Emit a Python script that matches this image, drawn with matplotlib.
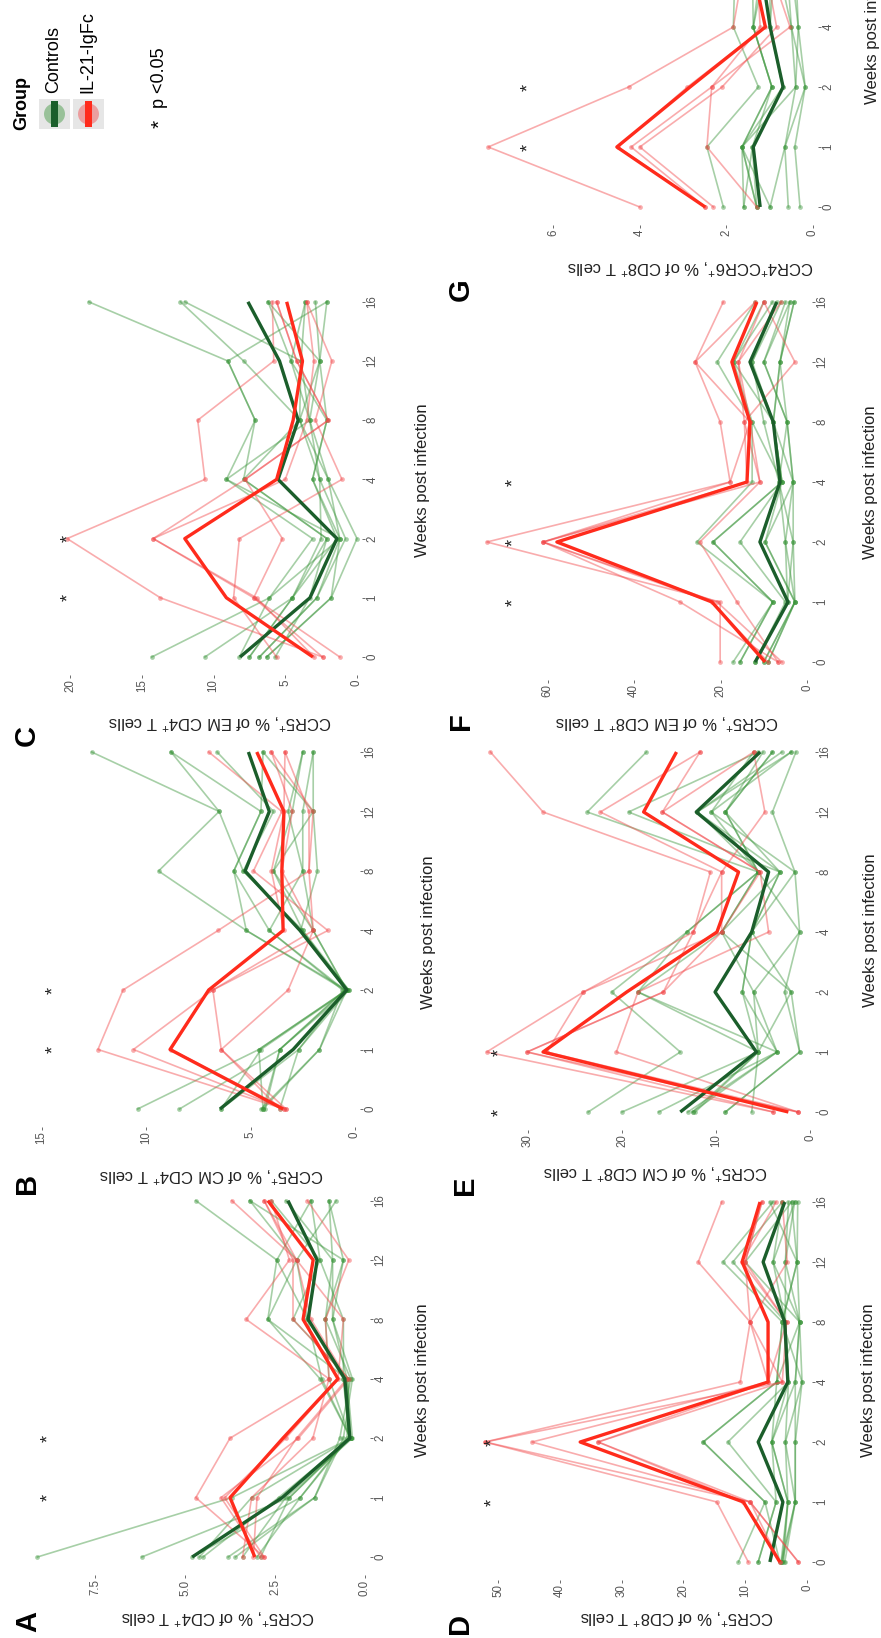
import matplotlib.pyplot as plt
import numpy as np
from matplotlib.patches import Rectangle, Ellipse

plt.rcParams['font.family'] = ['Liberation Sans', 'DejaVu Sans']
plt.rcParams['mathtext.fontset'] = 'custom'
plt.rcParams['mathtext.rm'] = 'Liberation Sans'
plt.rcParams['mathtext.it'] = 'Liberation Sans:italic'

W, H = 881, 1638

# shared categories
weeks = ["0", "1", "2", "4", "8", "12", "16"]
groups = ["Controls", "IL-21-IgFc"]

# ---- panel A: CCR5+ % of CD4+ T cells
a_ctrl = [
    [9.1, 3.7, 0.4, 1.25, 2.7, 2.45, 4.7],
    [6.2, 2.1, 0.4, 0.6, 1.6, 1.9, 3.2],
    [4.8, 1.8, 0.5, 0.45, 2.0, 1.25, 1.5],
    [4.6, 3.15, 0.4, 1.0, 1.1, 0.9, 2.2],
    [3.8, 1.4, 0.6, 0.35, 0.9, 0.6, 1.0],
    [3.4, 2.2, 0.35, 0.5, 2.7, 1.9, 0.8],
    [3.0, 1.8, 0.45, 0.6, 0.6, 1.25, 2.6],
    [4.5, 2.4, 0.4, 1.2, 1.6, 2.45, 1.5],
    [3.6, 1.4, 0.7, 0.4, 1.1, 0.6, 3.2],
    [2.9, 2.1, 0.4, 0.5, 0.9, 0.9, 1.0],
]
a_il21 = [
    [2.8, 4.7, 3.75, 1.0, 3.3, 2.1, 2.6],
    [2.9, 4.0, 1.85, 0.45, 2.0, 2.0, 2.8],
    [3.4, 3.15, 1.45, 1.0, 1.1, 0.45, 1.6],
    [2.8, 3.9, 2.2, 0.75, 0.6, 1.9, 3.7],
    [3.1, 3.0, 1.9, 0.5, 1.5, 1.9, 2.8],
]
a_ctrl_mean = [4.8, 2.3, 0.42, 0.56, 1.58, 1.33, 2.14]
a_il21_mean = [3.06, 3.75, 2.28, 0.75, 1.72, 1.44, 2.7]

# ---- panel B: CCR5+ % of CM CD4+ T cells
b_ctrl = [
    [10.4, 4.6, 0.4, 5.2, 9.4, 6.5, 12.6],
    [8.4, 3.6, 0.5, 4.1, 5.8, 4.5, 8.8],
    [6.4, 2.7, 0.3, 2.5, 5.35, 3.9, 6.6],
    [4.4, 4.6, 0.4, 2.0, 3.9, 2.0, 4.4],
    [4.5, 1.7, 0.6, 4.1, 2.5, 3.2, 2.5],
    [4.3, 3.6, 0.3, 2.6, 1.8, 2.0, 2.0],
    [3.6, 2.7, 0.5, 5.2, 5.8, 4.5, 4.4],
    [4.4, 1.7, 0.4, 2.0, 2.5, 2.5, 2.0],
    [6.4, 4.5, 0.35, 2.6, 5.35, 6.5, 8.8],
    [4.4, 3.6, 0.45, 2.5, 3.9, 3.0, 2.5],
]
b_il21 = [
    [3.4, 12.3, 11.1, 6.55, 2.2, 2.2, 3.35],
    [3.3, 6.4, 6.8, 1.3, 4.86, 3.5, 7.0],
    [3.6, 6.4, 3.2, 2.0, 2.2, 2.0, 4.0],
    [3.4, 10.6, 6.8, 2.0, 3.5, 3.0, 4.0],
    [3.3, 8.8, 7.0, 3.4, 4.0, 3.4, 3.35],
]
b_ctrl_mean = [6.46, 2.96, 0.39, 2.63, 5.26, 4.1, 5.1]
b_il21_mean = [3.44, 8.85, 7.0, 3.44, 3.5, 3.4, 4.7]

# ---- panel C: CCR5+ % of EM CD4+ T cells
c_ctrl = [
    [14.3, 6.1, 3.1, 9.1, 7.1, 9.0, 18.7],
    [10.6, 4.5, 2.1, 7.9, 4.0, 7.9, 12.3],
    [8.2, 6.1, 1.2, 9.1, 3.3, 3.9, 12.0],
    [7.5, 4.5, 1.4, 3.1, 2.1, 2.6, 6.2],
    [6.8, 2.8, 0.8, 2.6, 3.3, 4.6, 3.6],
    [6.3, 1.8, 0.0, 2.0, 4.0, 2.6, 2.9],
    [5.7, 3.3, 2.1, 7.9, 7.1, 9.0, 2.1],
    [6.8, 2.8, 1.2, 3.1, 2.1, 4.6, 6.2],
    [7.5, 4.5, 2.5, 2.6, 4.0, 3.9, 3.6],
    [6.3, 1.8, 1.2, 2.0, 3.3, 2.6, 2.1],
]
c_il21 = [
    [2.4, 13.7, 20.2, 10.6, 11.1, 5.8, 5.9],
    [1.2, 7.2, 14.2, 7.8, 2.0, 4.2, 5.6],
    [5.6, 8.6, 8.2, 1.05, 2.9, 1.75, 3.5],
    [2.4, 7.2, 5.2, 7.8, 2.0, 4.2, 5.6],
    [3.0, 7.0, 14.2, 5.0, 3.5, 3.0, 3.5],
]
c_ctrl_mean = [8.15, 3.28, 1.4, 5.5, 4.1, 5.4, 7.6]
c_il21_mean = [3.07, 9.1, 12.0, 5.6, 4.45, 3.8, 4.9]

# ---- panel D: CCR5+ % of CD8+ T cells
d_ctrl = [
    [11.1, 6.8, 16.8, 4.9, 4.0, 13.6, 5.5],
    [7.9, 5.0, 12.8, 3.0, 3.5, 12.0, 4.0],
    [4.2, 3.1, 5.7, 1.9, 1.2, 10.0, 2.5],
    [4.0, 1.9, 3.5, 0.8, 1.2, 5.5, 2.0],
    [3.8, 3.1, 5.7, 3.0, 3.5, 3.5, 3.0],
    [4.4, 6.8, 16.8, 4.9, 4.0, 1.6, 6.0],
    [3.6, 1.9, 1.9, 1.9, 1.2, 1.6, 1.5],
    [4.0, 3.1, 3.5, 3.0, 3.5, 5.5, 4.0],
    [7.9, 5.0, 5.7, 4.9, 1.2, 3.5, 2.0],
    [4.2, 1.9, 1.9, 0.8, 4.0, 1.6, 2.5],
]
d_il21 = [
    [9.5, 14.6, 52.1, 10.8, 9.2, 17.6, 13.8],
    [1.4, 9.2, 44.5, 6.3, 9.2, 10.0, 7.3],
    [4.4, 9.2, 33.8, 4.0, 3.3, 10.0, 7.3],
    [1.4, 9.2, 52.1, 4.0, 9.2, 3.2, 4.0],
    [4.4, 10.3, 33.8, 6.3, 3.3, 10.5, 5.0],
]
d_ctrl_mean = [6.0, 3.9, 7.9, 3.1, 3.6, 7.1, 3.6]
d_il21_mean = [4.4, 10.3, 36.7, 6.3, 6.3, 10.5, 7.6]

# ---- panel E: CCR5+ % of CM CD8+ T cells
e_ctrl = [
    [23.6, 13.8, 21.1, 13.1, 5.5, 23.7, 17.4],
    [20.0, 5.5, 18.3, 9.4, 3.2, 19.3, 5.5],
    [16.1, 3.5, 18.3, 13.1, 5.5, 12.0, 3.0],
    [12.2, 5.5, 7.2, 6.2, 1.6, 10.5, 2.0],
    [12.5, 3.5, 6.0, 9.4, 5.5, 9.0, 4.0],
    [9.0, 1.1, 2.7, 1.1, 1.6, 4.0, 1.5],
    [6.2, 5.5, 2.0, 6.2, 3.2, 9.0, 5.0],
    [12.5, 5.5, 6.0, 1.1, 5.5, 10.5, 6.0],
    [13.0, 3.5, 7.2, 6.2, 3.2, 12.0, 2.0],
    [9.0, 1.1, 2.0, 9.4, 5.5, 9.0, 4.0],
]
e_il21 = [
    [3.9, 34.4, 24.1, 12.4, 10.6, 28.4, 34.0],
    [1.3, 30.1, 15.6, 9.4, 9.4, 22.3, 11.7],
    [1.3, 20.6, 18.3, 4.4, 5.3, 15.7, 6.0],
    [3.9, 30.1, 15.6, 12.4, 9.4, 4.8, 6.0],
    [1.3, 28.0, 24.1, 9.4, 5.3, 15.7, 11.7],
]
e_ctrl_mean = [13.8, 5.7, 10.1, 6.2, 4.4, 12.1, 5.3]
e_il21_mean = [2.3, 28.4, 19.5, 9.9, 7.6, 17.7, 14.2]

# ---- panel F: CCR5+ % of EM CD8+ T cells
f_ctrl = [
    [17.1, 7.9, 25.5, 12.7, 12.7, 20.8, 12.0],
    [15.5, 7.9, 21.8, 5.8, 7.8, 17.0, 8.0],
    [12.0, 5.0, 15.5, 5.8, 7.8, 12.7, 6.0],
    [9.0, 2.8, 9.7, 3.2, 4.6, 10.0, 4.0],
    [10.0, 2.8, 9.7, 5.8, 7.8, 6.25, 3.0],
    [12.0, 4.5, 3.2, 6.5, 10.0, 12.7, 7.0],
    [9.0, 2.8, 5.0, 3.2, 4.6, 6.25, 3.0],
    [15.5, 7.9, 21.8, 5.8, 12.7, 17.0, 10.0],
    [12.0, 4.5, 5.0, 6.5, 4.6, 10.0, 5.0],
    [10.0, 2.8, 3.2, 3.2, 7.8, 6.25, 4.0],
]
f_il21 = [
    [20.1, 20.1, 74.1, 17.8, 20.1, 25.9, 19.4],
    [6.7, 29.4, 61.1, 13.9, 14.5, 15.9, 10.0],
    [5.8, 20.8, 61.1, 10.9, 13.2, 25.9, 12.0],
    [6.7, 16.2, 24.8, 10.9, 14.5, 2.8, 10.0],
    [9.0, 22.0, 61.1, 17.8, 13.2, 15.9, 6.0],
]
f_ctrl_mean = [12.0, 4.4, 10.9, 6.25, 7.8, 13.2, 7.0]
f_il21_mean = [9.7, 22.0, 57.9, 13.9, 13.2, 17.4, 11.6]

# ---- panel G: CCR4+CCR6+ % of CD8+ T cells
g_ctrl = [
    [2.07, 2.45, 1.26, 1.84, 1.8, 2.2, 1.5],
    [1.6, 1.64, 0.95, 1.38, 1.4, 1.6, 1.2],
    [1.3, 1.64, 0.95, 1.38, 1.2, 1.2, 1.0],
    [0.99, 1.64, 0.7, 0.99, 0.9, 1.0, 0.8],
    [0.57, 0.65, 0.4, 0.34, 0.5, 0.6, 0.5],
    [0.3, 0.42, 0.18, 0.34, 0.4, 0.5, 0.4],
    [1.3, 1.4, 0.7, 0.99, 1.0, 1.2, 1.1],
    [0.99, 0.65, 0.18, 0.5, 0.6, 0.9, 0.7],
    [1.6, 1.4, 0.95, 1.38, 1.1, 1.4, 1.3],
    [1.3, 1.64, 0.4, 0.5, 0.8, 0.8, 0.6],
]
g_il21 = [
    [4.0, 7.5, 4.26, 1.84, 1.6, 2.4, 2.0],
    [2.49, 4.2, 2.34, 1.22, 1.3, 1.4, 1.2],
    [2.3, 4.0, 2.1, 0.84, 1.1, 2.0, 1.6],
    [1.3, 2.45, 2.34, 0.53, 1.0, 1.5, 1.4],
    [2.49, 4.5, 2.9, 1.1, 1.4, 1.8, 1.3],
]
g_ctrl_mean = [1.22, 1.38, 0.69, 0.99, 1.2, 1.3, 1.1]
g_il21_mean = [2.49, 4.53, 2.84, 1.1, 1.4, 1.8, 1.5]

# y-axis ticks of each panel
a_ticks = [0, 2.5, 5.0, 7.5]
b_ticks = [0, 5, 10, 15]
c_ticks = [0, 5, 10, 15, 20]
d_ticks = [0, 10, 20, 30, 40, 50]
e_ticks = [0, 10, 20, 30]
f_ticks = [0, 20, 40, 60]
g_ticks = [0, 2, 4, 6]

# significant weeks (p < 0.05)
a_sig = ["1", "2"]
b_sig = ["1", "2"]
c_sig = ["1", "2"]
d_sig = ["1", "2"]
e_sig = ["0", "1"]
f_sig = ["1", "2", "4"]
g_sig = ["1", "2"]

CTRL = "#3c963c"
CTRL_DARK = "#1b5e2b"
IL21 = "#f2484a"
IL21_DARK = "#ff2b1c"
TICK = "#555555"


def lab(cells, first="CCR5"):
    return first + r"$^{+}$, % of " + cells + r"$^{+}$ T cells"


panels = [
    # letter, label, data, ticks, ticklabels, sig, star value, geometry (pixels)
    dict(letter="A", label=lab("CD4"), ctrl=a_ctrl, il21=a_il21,
         cm=a_ctrl_mean, im=a_il21_mean, ticks=a_ticks,
         tl=["0.0", "2.5", "5.0", "7.5"], sig=a_sig, star=8.8, nweeks=7,
         x0=365, ppu=36.0, y0=1557, ppi=59.4, l=18, r=370, b=1575, t=1183,
         vlab=(218, 1617), wlab=(422, 1380), let=(28, 1621)),
    dict(letter="B", label=lab("CM CD4"), ctrl=b_ctrl, il21=b_il21,
         cm=b_ctrl_mean, im=b_il21_mean, ticks=b_ticks,
         tl=[str(v) for v in b_ticks], sig=b_sig, star=14.4, nweeks=7,
         x0=355, ppu=20.9, y0=1109, ppi=59.5, l=18, r=360, b=1127, t=734,
         vlab=(212, 1175), wlab=(428, 932), let=(27, 1183)),
    dict(letter="C", label=lab("EM CD4"), ctrl=c_ctrl, il21=c_il21,
         cm=c_ctrl_mean, im=c_il21_mean, ticks=c_ticks,
         tl=[str(v) for v in c_ticks], sig=c_sig, star=20.1, nweeks=7,
         x0=357, ppu=14.35, y0=657, ppi=59.2, l=18, r=362, b=675, t=284,
         vlab=(220, 722), wlab=(422, 480), let=(27, 735)),
    dict(letter="D", label=lab("CD8"), ctrl=d_ctrl, il21=d_il21,
         cm=d_ctrl_mean, im=d_il21_mean, ticks=d_ticks,
         tl=[str(v) for v in d_ticks], sig=d_sig, star=50.8, nweeks=7,
         x0=807, ppu=6.18, y0=1562, ppi=60, l=478, r=812, b=1580, t=1184,
         vlab=(677, 1617), wlab=(868, 1380), let=(460, 1623)),
    dict(letter="E", label=lab("CM CD8"), ctrl=e_ctrl, il21=e_il21,
         cm=e_ctrl_mean, im=e_il21_mean, ticks=e_ticks,
         tl=[str(v) for v in e_ticks], sig=e_sig, star=33.0, nweeks=7,
         x0=810, ppu=9.4, y0=1112, ppi=60, l=478, r=815, b=1130, t=734,
         vlab=(656, 1172), wlab=(870, 930), let=(465, 1185)),
    dict(letter="F", label=lab("EM CD8"), ctrl=f_ctrl, il21=f_il21,
         cm=f_ctrl_mean, im=f_il21_mean, ticks=f_ticks,
         tl=[str(v) for v in f_ticks], sig=f_sig, star=67.8, nweeks=7,
         x0=807, ppu=4.32, y0=662, ppi=60, l=470, r=812, b=680, t=284,
         vlab=(667, 722), wlab=(870, 482), let=(461, 721)),
    # panel G runs off the top edge of the page, only weeks 0-4 are visible
    dict(letter="G", label=lab("CD8", first=r"CCR4$^{+}$CCR6"), ctrl=g_ctrl,
         il21=g_il21, cm=g_ctrl_mean, im=g_il21_mean, ticks=g_ticks,
         tl=[str(v) for v in g_ticks], sig=g_sig, star=6.56, nweeks=4,
         x0=813, ppu=43.3, y0=207, ppi=60, l=476, r=818, b=225, t=-171,
         vlab=(690, 267), wlab=(873, 27), let=(461, 290)),
]

fig = plt.figure(figsize=(W / 100, H / 100), dpi=100)
fig.patch.set_facecolor("white")

# overlay in pixel coordinates for titles, letters and legend
ov = fig.add_axes([0, 0, 1, 1], zorder=5)
ov.set_xlim(0, W)
ov.set_ylim(H, 0)
ov.axis("off")

idx = np.arange(len(weeks))

for p in panels:
    rect = [p["l"] / W, 1 - p["b"] / H, (p["r"] - p["l"]) / W,
            (p["b"] - p["t"]) / H]
    ax = fig.add_axes(rect)
    # values run right-to-left, weeks bottom-to-top (figure is rotated)
    ax.set_xlim((p["x0"] - p["l"]) / p["ppu"], (p["x0"] - p["r"]) / p["ppu"])
    ax.set_ylim((p["y0"] - p["b"]) / p["ppi"], (p["y0"] - p["t"]) / p["ppi"])
    for row in p["ctrl"]:
        ax.plot(row, idx, "-o", color=CTRL, alpha=0.45, lw=1.2, ms=3.4,
                mew=0)
    for row in p["il21"]:
        ax.plot(row, idx, "-o", color=IL21, alpha=0.45, lw=1.2, ms=3.4,
                mew=0)
    ax.plot(p["cm"], idx, color=CTRL_DARK, lw=2.4, solid_capstyle="butt")
    ax.plot(p["im"], idx, color=IL21_DARK, lw=2.4, solid_capstyle="butt")
    for w in p["sig"]:
        ax.text(p["star"], weeks.index(w), "*", rotation=90, fontsize=13,
                ha="center", va="center", color="#222222")

    n = p["nweeks"]
    ax.set_xticks(p["ticks"])
    ax.set_xticklabels(p["tl"], rotation=90)
    ax.set_yticks(idx[:n])
    ax.set_yticklabels(weeks[:n], rotation=90, va="center")
    ax.yaxis.tick_right()
    ax.tick_params(length=2.2, width=0.6, color=TICK, pad=1,
                   labelsize=8.3, labelcolor=TICK)
    for s in ax.spines.values():
        s.set_visible(False)
    ax.patch.set_alpha(0)

    ov.text(*p["vlab"], p["label"], rotation=180, fontsize=12,
            ha="center", va="center", color="#222222")
    ov.text(*p["wlab"], "Weeks post infection", rotation=90, fontsize=12,
            ha="center", va="center", color="#222222")
    ov.text(*p["let"], p["letter"], rotation=90, fontsize=21,
            fontweight="bold", ha="center", va="center")

# legend (top right of the original layout)
ov.text(22, 130, "Group", rotation=90, rotation_mode="anchor", ha="left",
        va="center", fontsize=13, fontweight="bold")
key_x = [39, 73]
for kx, name, light, dark in zip(key_x, groups, [CTRL, IL21],
                                 [CTRL_DARK, IL21_DARK]):
    ov.add_patch(Rectangle((kx, 99), 31, 30, color="#e6e6e6", lw=0))
    ov.add_patch(Ellipse((kx + 15.5, 114), 21, 21, color=light, alpha=0.45,
                         lw=0))
    ov.add_patch(Rectangle((kx + 12, 101), 7, 26, color=dark, lw=0))
    ov.text(kx + 15, 93, name, rotation=90, rotation_mode="anchor",
            ha="left", va="center", fontsize=13)
ov.text(160, 124, "*", rotation=90, rotation_mode="anchor", ha="center",
        va="center", fontsize=15)
ov.text(160, 108, "p <0.05", rotation=90, rotation_mode="anchor", ha="left",
        va="center", fontsize=13)

fig.savefig("out.png", dpi=100)
